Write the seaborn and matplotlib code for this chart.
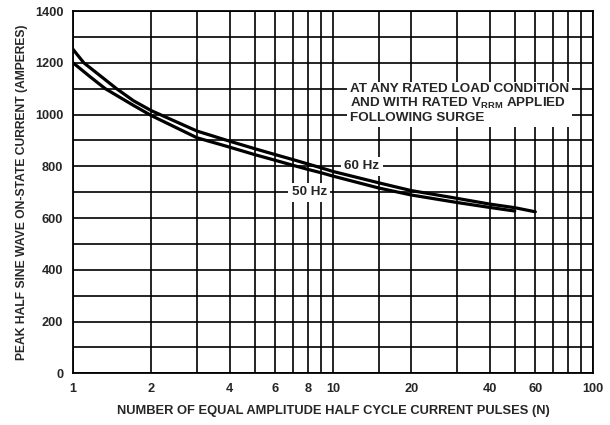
import matplotlib
matplotlib.use("Agg")
import matplotlib.pyplot as plt
import seaborn as sns
import pandas as pd
from matplotlib.patches import Rectangle

# ---- data ----
n_60hz = [1, 1.1, 1.47, 1.71, 2, 3, 4, 5, 6, 7, 8, 9, 10, 15, 20, 30, 40, 50, 60]
i_60hz = [1252, 1200, 1100, 1053, 1015, 936, 897, 868, 845, 826, 809, 794, 780, 736, 706, 676, 654, 640, 624]
n_50hz = [1, 1.16, 1.33, 1.71, 2, 3, 4, 5, 6, 7, 8, 9, 10, 15, 20, 30, 40, 50]
i_50hz = [1200, 1147, 1100, 1035, 996, 910, 874, 845, 823, 804, 788, 775, 762, 716, 689, 660, 641, 627]

x_grid = [1, 2, 3, 4, 5, 6, 7, 8, 9, 10, 15, 20, 30, 40, 50, 60, 70, 80, 90, 100]
x_labels = ["1", "2", "", "4", "", "6", "", "8", "", "10", "", "20", "", "40", "", "60", "", "", "", "100"]
y_grid = list(range(0, 1401, 100))
y_labels = [str(v) if v % 200 == 0 else "" for v in y_grid]

df = pd.concat([
    pd.DataFrame({"N": n_60hz, "I": i_60hz, "f": "60 Hz"}),
    pd.DataFrame({"N": n_50hz, "I": i_50hz, "f": "50 Hz"}),
])

sns.set_theme(style="white")
plt.rcParams["font.family"] = ["Liberation Sans", "DejaVu Sans"]
plt.rcParams["font.weight"] = "bold"

fig = plt.figure(figsize=(6.1, 4.25), dpi=100)
ax = fig.add_axes([73 / 610, 1 - 373.3 / 425, (593 - 73) / 610, (373.3 - 11) / 425])

sns.lineplot(data=df, x="N", y="I", units="f", estimator=None, color="black",
             linewidth=2.3, ax=ax, zorder=5, legend=False, sort=False)

ax.set_xscale("log")
ax.set_xlim(1, 100)
ax.set_ylim(0, 1400)
ax.set_xticks(x_grid)
ax.set_xticklabels(x_labels)
ax.minorticks_off()
ax.set_yticks(y_grid)
ax.set_yticklabels(y_labels)
ax.tick_params(axis="y", length=0, labelsize=9.2, pad=7)
ax.tick_params(axis="x", length=0, labelsize=9.2, pad=7)
for lab in ax.get_xticklabels() + ax.get_yticklabels():
    lab.set_fontweight("bold")
ax.grid(True, color="black", linewidth=1.2, zorder=1)
ax.set_axisbelow(True)
for s in ax.spines.values():
    s.set_color("black")
    s.set_linewidth(1.3)

ax.set_xlabel("NUMBER OF EQUAL AMPLITUDE HALF CYCLE CURRENT PULSES (N)",
              fontsize=9.3, fontweight="bold", labelpad=7)
ax.set_ylabel("PEAK HALF SINE WAVE ON-STATE CURRENT (AMPERES)",
              fontsize=8.7, fontweight="bold", labelpad=5)

# annotation box
ax.add_patch(Rectangle((11.3, 952), 83 - 11.3, 1125 - 952, facecolor="white",
                       edgecolor="none", zorder=3))
ax.text(11.6, 1042, "AT ANY RATED LOAD CONDITION\nAND WITH RATED V$_{\\mathregular{RRM}}$ APPLIED\nFOLLOWING SURGE",
        fontsize=9.7, fontweight="bold", ha="left", va="center", zorder=4,
        linespacing=1.1)

ax.text(12.9, 800, "60 Hz", fontsize=9.7, fontweight="bold", ha="center", va="center",
        zorder=4, bbox=dict(facecolor="white", edgecolor="none", pad=2.5))
ax.text(8.1, 700, "50 Hz", fontsize=9.7, fontweight="bold", ha="center", va="center",
        zorder=4, bbox=dict(facecolor="white", edgecolor="none", pad=2.5))

fig.savefig("out.png", dpi=100, facecolor="white")
